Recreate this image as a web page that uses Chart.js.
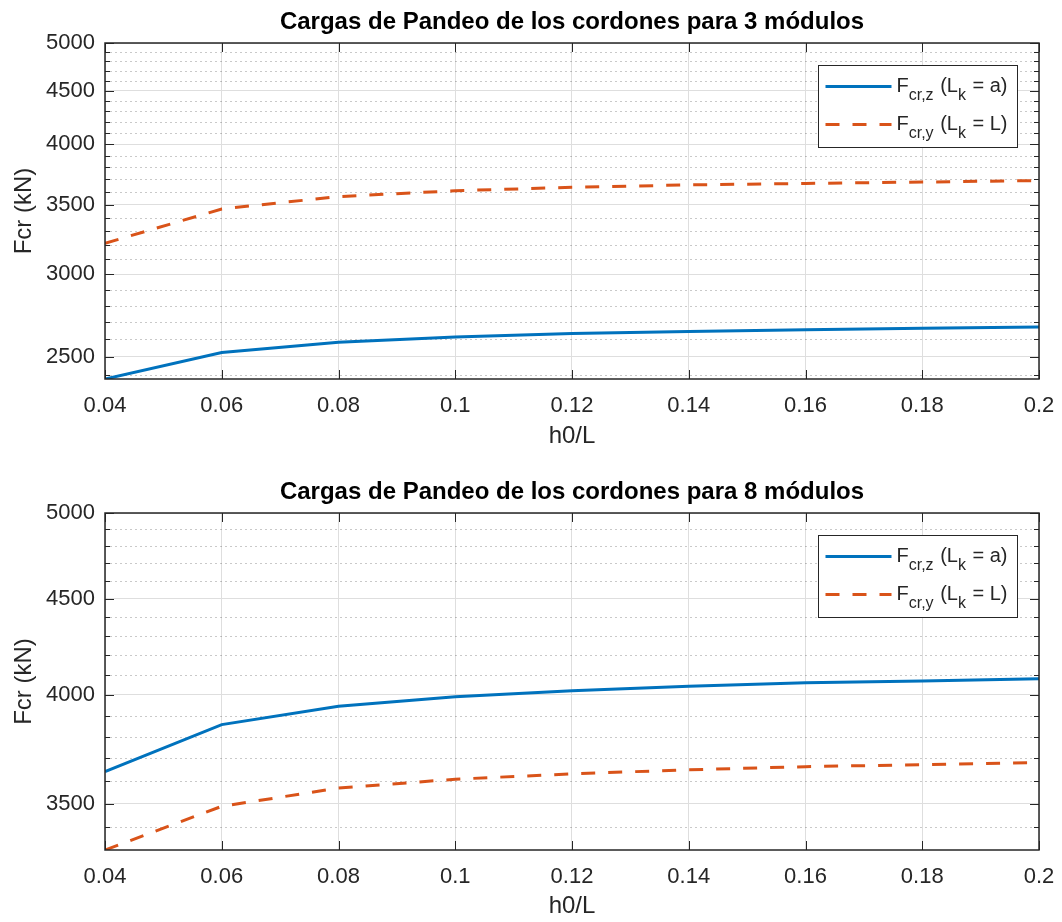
<!DOCTYPE html>
<html>
<head>
<meta charset="utf-8">
<script src="https://cdn.jsdelivr.net/npm/chart.js@4/dist/chart.umd.min.js"></script>
<style>
  html, body { margin: 0; padding: 0; background: #fff; overflow: hidden; }
  #fig { position: relative; width: 1062px; height: 922px; overflow: hidden; }
  #fig canvas { position: absolute; left: 0; }
</style>
</head>
<body>
<div id="fig">
  <canvas id="plot3" width="1062" height="461" style="top:0px"></canvas>
  <canvas id="plot8" width="1062" height="461" style="top:470px"></canvas>
</div>
<script>
// h0/L ratios where the buckling loads were evaluated
const hOverL = [0.04, 0.06, 0.08, 0.10, 0.12, 0.14, 0.16, 0.18, 0.20];

// Buckling loads of the chords (kN), 3 modules
const fcrZ3 = [2381, 2524, 2582, 2612, 2632, 2645, 2655, 2663, 2670];
const fcrY3 = [3213, 3466, 3562, 3608, 3636, 3655, 3667, 3678, 3690];

// Buckling loads of the chords (kN), 8 modules
const fcrZ8 = [3641, 3857, 3945, 3991, 4020, 4043, 4060, 4069, 4080];
const fcrY8 = [3307, 3489, 3568, 3607, 3631, 3649, 3663, 3672, 3682];

const seriesLabels = ['F_{cr,z} (L_k = a)', 'F_{cr,y} (L_k = L)'];
const xTickValues = [0.04, 0.06, 0.08, 0.1, 0.12, 0.14, 0.16, 0.18, 0.2];
const yTickValues = [2500, 3000, 3500, 4000, 4500, 5000];
const yMax = 5000;

const FONT = "'Liberation Sans', Arial, Helvetica, sans-serif";
const AXIS_COLOR = '#262626';
const GRID_COLOR = '#dedede';

// split a TeX-like label into plain and subscript runs
function texRuns(label) {
  const runs = [];
  const re = /_\{([^}]*)\}|_(.)/g;
  let last = 0, m;
  while ((m = re.exec(label)) !== null) {
    if (m.index > last) runs.push({ text: label.slice(last, m.index), sub: false });
    runs.push({ text: m[1] !== undefined ? m[1] : m[2], sub: true });
    last = re.lastIndex;
  }
  if (last < label.length) runs.push({ text: label.slice(last), sub: false });
  return runs;
}

function strokeLine(ctx, x1, y1, x2, y2) {
  ctx.beginPath();
  ctx.moveTo(x1, y1);
  ctx.lineTo(x2, y2);
  ctx.stroke();
}

// minor log grid, box, inward ticks, title and legend drawn around the chart area
const matlabAxes = {
  id: 'matlabAxes',
  beforeDatasetsDraw(chart) {
    const { ctx, chartArea: { left, right }, scales: { y } } = chart;
    ctx.save();
    ctx.strokeStyle = 'rgba(38,38,38,0.25)';
    ctx.lineWidth = 1;
    ctx.setLineDash([2, 3]);
    for (let v = Math.ceil(y.min / 100) * 100; v <= y.max; v += 100) {
      if (v % 500 === 0) continue;
      const py = Math.round(y.getPixelForValue(v)) + 0.5;
      strokeLine(ctx, left, py, right, py);
    }
    ctx.restore();
  },
  afterDatasetsDraw(chart) {
    const { ctx, chartArea: { left, right, top, bottom }, scales: { x, y } } = chart;
    ctx.save();
    ctx.strokeStyle = AXIS_COLOR;
    ctx.lineWidth = 1;
    xTickValues.forEach(v => {
      const px = Math.round(x.getPixelForValue(v)) + 0.5;
      strokeLine(ctx, px, bottom, px, bottom - 9);
      strokeLine(ctx, px, top, px, top + 9);
    });
    for (let v = Math.ceil(y.min / 100) * 100; v <= y.max; v += 100) {
      const len = v % 500 === 0 ? 9 : 5;
      const py = Math.round(y.getPixelForValue(v)) + 0.5;
      strokeLine(ctx, left, py, left + len, py);
      strokeLine(ctx, right, py, right - len, py);
    }
    ctx.lineWidth = 1.5;
    ctx.strokeRect(left, top, right - left, bottom - top);
    ctx.restore();
  },
  afterDraw(chart, args, opts) {
    const { ctx, chartArea: { left, right, top } } = chart;
    ctx.save();
    // title
    ctx.font = `bold 24px ${FONT}`;
    ctx.fillStyle = '#000';
    ctx.textAlign = 'center';
    ctx.textBaseline = 'middle';
    ctx.fillText(opts.title, (left + right) / 2, top - 21);

    // legend with subscripts
    const mainFont = `20px ${FONT}`, subFont = `16px ${FONT}`;
    ctx.textAlign = 'left';
    ctx.textBaseline = 'alphabetic';
    const entries = chart.data.datasets.map(ds => {
      const runs = texRuns(ds.label);
      let w = 0;
      runs.forEach(r => { ctx.font = r.sub ? subFont : mainFont; r.w = ctx.measureText(r.text).width; w += r.w; });
      return { ds, runs, w };
    });
    const textW = Math.max(...entries.map(e => e.w));
    const boxW = Math.round(7 + 66 + 5 + textW + 12);
    const boxH = 82;
    const bx = Math.round(right - 22 - boxW) + 0.5;
    const by = Math.round(top + 22) + 0.5;
    ctx.fillStyle = '#fff';
    ctx.fillRect(bx, by, boxW, boxH);
    ctx.strokeStyle = AXIS_COLOR;
    ctx.lineWidth = 1;
    ctx.strokeRect(bx, by, boxW, boxH);
    entries.forEach((e, i) => {
      const ry = by + 21 + i * 38;
      ctx.save();
      ctx.strokeStyle = e.ds.borderColor;
      ctx.lineWidth = e.ds.borderWidth;
      ctx.setLineDash(e.ds.borderDash || []);
      strokeLine(ctx, bx + 7, ry, bx + 73, ry);
      ctx.restore();
      let tx = bx + 78;
      ctx.fillStyle = AXIS_COLOR;
      e.runs.forEach(r => {
        ctx.font = r.sub ? subFont : mainFont;
        ctx.fillText(r.text, tx, ry + (r.sub ? 13 : 5));
        tx += r.w + (r.sub ? 1 : 0);
      });
    });
    ctx.restore();
  }
};

function buildPlot(canvasId, title, zVals, yVals, area) {
  const yMin = Math.min(...zVals, ...yVals);
  const tickFont = { family: FONT, size: 22 };
  const labelFont = { family: FONT, size: 24 };
  return new Chart(document.getElementById(canvasId), {
    type: 'line',
    data: {
      datasets: [
        {
          label: seriesLabels[0],
          data: hOverL.map((h, i) => ({ x: h, y: zVals[i] })),
          borderColor: '#0072BD',
          borderWidth: 3,
          pointRadius: 0,
          tension: 0
        },
        {
          label: seriesLabels[1],
          data: hOverL.map((h, i) => ({ x: h, y: yVals[i] })),
          borderColor: '#D95319',
          borderWidth: 3,
          borderDash: [14, 13],
          pointRadius: 0,
          tension: 0
        }
      ]
    },
    options: {
      responsive: false,
      animation: false,
      devicePixelRatio: 1,
      layout: { padding: { left: 0, right: 1062 - area.right, top: area.top, bottom: 0 } },
      plugins: {
        legend: { display: false },
        tooltip: { enabled: false },
        matlabAxes: { title: title }
      },
      scales: {
        x: {
          type: 'linear',
          min: 0.04,
          max: 0.2,
          afterBuildTicks: s => { s.ticks = xTickValues.map(v => ({ value: v })); },
          afterFit: s => {
            s.height = 461 - area.bottom;
            // edge labels may overhang, keep the plot box where it is
            s.paddingLeft = 0;
            s.paddingRight = 0;
          },
          grid: { color: GRID_COLOR, drawTicks: false },
          border: { display: false },
          ticks: {
            padding: 14,
            font: tickFont,
            color: AXIS_COLOR,
            maxRotation: 0,
            autoSkip: false,
            callback: v => String(+v.toFixed(2))
          },
          title: { display: true, text: 'h0/L', font: labelFont, color: AXIS_COLOR, padding: { top: 0, bottom: 10 } }
        },
        y: {
          type: 'logarithmic',
          min: yMin,
          max: yMax,
          afterBuildTicks: s => { s.ticks = yTickValues.filter(v => v >= yMin).map(v => ({ value: v })); },
          afterFit: s => {
            s.width = area.left;
            s.paddingTop = 0;
            s.paddingBottom = 0;
          },
          grid: { color: GRID_COLOR, drawTicks: false },
          border: { display: false },
          ticks: {
            padding: 10,
            font: tickFont,
            color: AXIS_COLOR,
            autoSkip: false,
            callback: v => String(v)
          },
          title: { display: true, text: 'Fcr (kN)', font: labelFont, color: AXIS_COLOR, padding: { top: 10, bottom: 0 } }
        }
      }
    },
    plugins: [matlabAxes]
  });
}

buildPlot('plot3', 'Cargas de Pandeo de los cordones para 3 módulos', fcrZ3, fcrY3,
  { left: 105, right: 1039, top: 43, bottom: 379 });
buildPlot('plot8', 'Cargas de Pandeo de los cordones para 8 módulos', fcrZ8, fcrY8,
  { left: 105, right: 1039, top: 43, bottom: 380 });
</script>
</body>
</html>
